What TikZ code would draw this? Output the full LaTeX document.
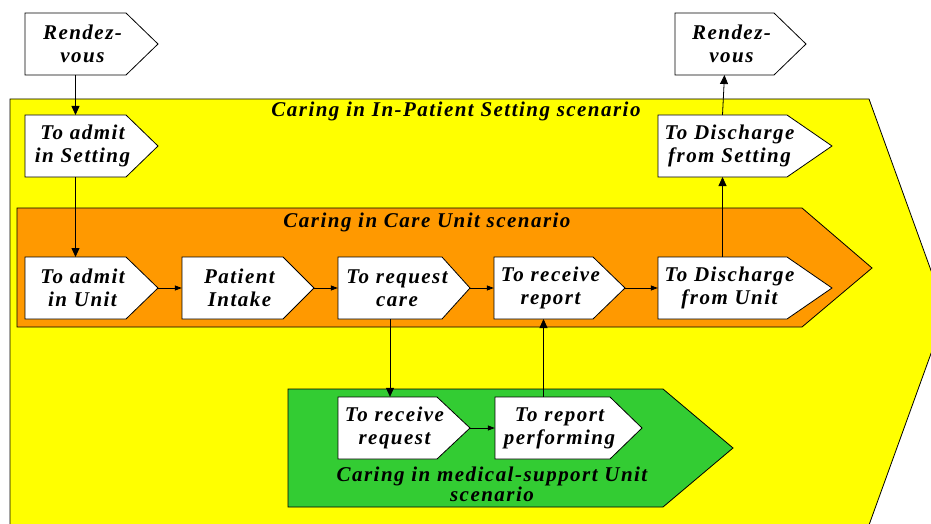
\documentclass[tikz,border=0pt]{standalone}
\usepackage{fontspec}
\usepackage{xcolor}
\usetikzlibrary{arrows.meta}
\newfontfamily\chevfont[LetterSpace=7]{Liberation Serif}
\definecolor{setyellow}{HTML}{FFFF00}
\definecolor{unitorange}{HTML}{FF9900}
\definecolor{medgreen}{HTML}{33CC33}
% name, left x, mid y, body width, tip length, text
\newcommand\chev[6]{%
  \draw[chevline] (#2,#3-31) -- ++(#4,0) -- ++(#5,31) -- ++(-#5,31) -- ++(-#4,0) -- cycle;
  \node[chevtext, minimum width=#4+14] (#1) at (#2+#4/2+7,#3) {#6};
  \coordinate (#1-n) at (#2+#4/2,#3-31); \coordinate (#1-s) at (#2+#4/2,#3+31); \coordinate (#1-tip) at (#2+#4+#5,#3);}
\begin{document}
\begin{tikzpicture}[x=1pt,y=-1pt,
  chevline/.style={draw, fill=white, line width=0.8pt},
  chevtext/.style={font=\chevfont\bfseries\itshape\fontsize{21}{23}\selectfont, align=center, minimum height=62pt, inner sep=0pt},
  scen/.style={font=\chevfont\bfseries\itshape\fontsize{21}{20}\selectfont, align=center, inner sep=0pt},
  region/.style={draw, line width=0.8pt},
  flow/.style={-{Triangle[length=9pt,width=8pt]}, line width=0.8pt},
  hflow/.style={-{Triangle[length=7pt,width=5pt]}, line width=0.8pt}]
  \useasboundingbox (0,0) rectangle (931,524); \clip (0,0) rectangle (931,524);
  % scenario areas
  \draw[region, fill=setyellow] (10,99) -- (869,99) -- (946,312) -- (869,525) -- (10,525) -- cycle;
  \draw[region, fill=unitorange] (17,208) -- (802,208) -- (872,268) -- (802,327) -- (17,327) -- cycle;
  \draw[region, fill=medgreen] (288,389) -- (663,389) -- (733,448) -- (663,507) -- (288,507) -- cycle;
  \node[scen, anchor=base] (setlbl) at (456,117) {Caring in In-Patient Setting scenario};
  \node[scen, anchor=base] (unitlbl) at (427,227) {Caring in Care Unit scenario};
  \node[scen] (medlbl) at (492,484) {Caring in medical-support Unit\\scenario};
  % steps
  \chev{rv1}{25}{44}{101}{32}{Rendez-\\vous} \chev{rv2}{675}{44}{99}{32}{Rendez-\\vous}
  \chev{ais}{25}{146}{101}{32}{To admit\\in Setting} \chev{dfs}{658}{146}{129}{45}{To Discharge\\from Setting}
  \chev{aiu}{25}{288}{101}{32}{To admit\\in Unit} \chev{pi}{182}{288}{101}{31}{Patient\\Intake}
  \chev{rc}{338}{288}{104}{28}{To request\\care} \chev{rr}{494}{288}{99}{32}{To receive\\report}
  \chev{dfu}{658}{288}{129}{45}{To Discharge\\from Unit}
  \chev{rq}{338}{428}{99}{33}{To receive\\request} \chev{rp}{495}{428}{115}{32}{To report\\performing}
  % connectors
  \draw[flow] (rv1-s) -- (ais-n); \draw[flow] (ais-s) -- (aiu-n);
  \draw[hflow] (aiu-tip) -- (pi.west); \draw[hflow] (pi-tip) -- (rc.west);
  \draw[hflow] (rc-tip) -- (rr.west); \draw[hflow] (rr-tip) -- (dfu.west);
  \draw[flow] (rc-s) -- (rc-s |- rq.north); \draw[hflow] (rq-tip) -- (rq-tip -| rp.west);
  \draw[flow] (rr-s |- rp.north) -- (rr-s);
  \draw[flow] (dfu-n) -- (dfs-s); \draw[flow] (dfs-n) -- (rv2-s);
\end{tikzpicture}
\end{document}
